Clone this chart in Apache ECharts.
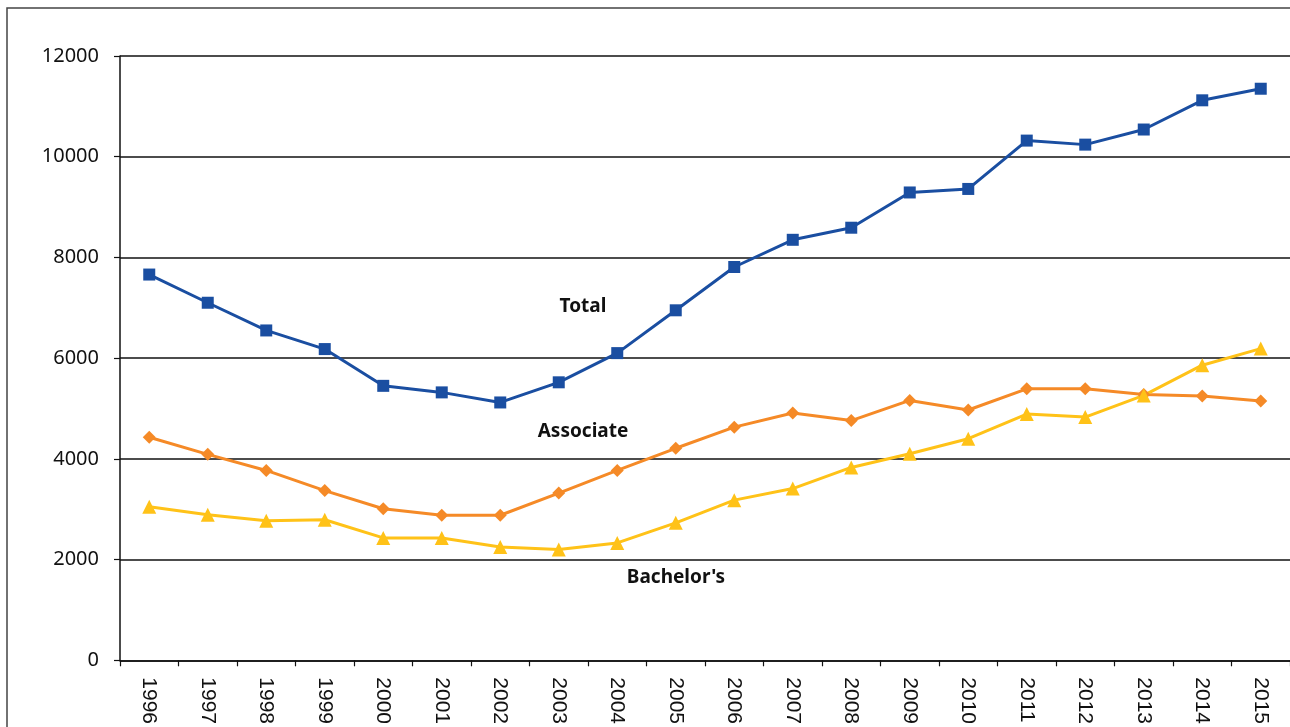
<!DOCTYPE html>
<html>
<head>
<meta charset="utf-8">
<script src="https://cdn.jsdelivr.net/npm/echarts@6/dist/echarts.min.js"></script>
<style>
html,body{margin:0;padding:0;background:#fff;}
#c{width:1290px;height:727px;}
</style>
</head>
<body>
<div id="c"></div>
<script>
const years = ['1996','1997','1998','1999','2000','2001','2002','2003','2004','2005','2006','2007','2008','2009','2010','2011','2012','2013','2014','2015'];
const total = [7660,7100,6550,6180,5450,5320,5120,5520,6100,6950,7810,8350,8590,9290,9360,10320,10240,10540,11120,11350];
const associate = [4430,4090,3770,3370,3010,2880,2880,3320,3770,4210,4630,4910,4760,5160,4970,5390,5390,5280,5250,5150];
const bachelors = [3050,2890,2770,2790,2430,2430,2250,2200,2330,2730,3180,3410,3830,4100,4400,4890,4830,5260,5860,6190];
const yTicks = {min: 0, max: 12000, interval: 2000};

const chart = echarts.init(document.getElementById('c'), null, {renderer: 'canvas'});
const option = {
  animation: false,
  backgroundColor: '#ffffff',
  grid: {left: 120, top: 56, width: 1176, height: 606},
  xAxis: {
    type: 'category',
    data: years,
    boundaryGap: true,
    axisLine: {show: true, lineStyle: {color: '#111', width: 1.5}},
    axisTick: {show: true, length: 6, lineStyle: {color: '#111', width: 1.2}},
    axisLabel: {rotate: -90, fontFamily: 'Liberation Sans', fontSize: 21, color: '#111', margin: 17, interval: 0},
    splitLine: {show: false}
  },
  yAxis: {
    type: 'value',
    min: yTicks.min, max: yTicks.max, interval: yTicks.interval,
    axisLine: {show: true, lineStyle: {color: '#111', width: 1.5}},
    axisTick: {show: true, length: 6, lineStyle: {color: '#111', width: 1.2}},
    axisLabel: {fontFamily: 'Noto Sans', fontSize: 20, color: '#111', margin: 21, formatter: function (v) { return String(v); }},
    splitLine: {show: true, lineStyle: {color: '#111', width: 1.5}}
  },
  series: [
    {name: 'Total', type: 'line', data: total, symbol: 'rect', symbolSize: 12,
     lineStyle: {color: '#1a4ea1', width: 3}, itemStyle: {color: '#1a4ea1'}},
    {name: 'Associate', type: 'line', data: associate, symbol: 'diamond', symbolSize: 13,
     lineStyle: {color: '#f58a27', width: 3}, itemStyle: {color: '#f58a27'}},
    {name: "Bachelor's", type: 'line', data: bachelors, symbol: 'triangle', symbolSize: 14,
     lineStyle: {color: '#ffc218', width: 3}, itemStyle: {color: '#ffc218'}}
  ],
  graphic: [
    {type: 'rect', shape: {x: 7, y: 8, width: 1320, height: 800}, style: {fill: 'none', stroke: '#444', lineWidth: 1.5}, z: 0, silent: true},
    {type: 'text', x: 583, y: 307, style: {text: 'Total', font: 'bold 19px "Noto Sans"', fill: '#111', align: 'center', verticalAlign: 'middle'}},
    {type: 'text', x: 583, y: 432, style: {text: 'Associate', font: 'bold 19px "Noto Sans"', fill: '#111', align: 'center', verticalAlign: 'middle'}},
    {type: 'text', x: 676, y: 578, style: {text: "Bachelor's", font: 'bold 19px "Noto Sans"', fill: '#111', align: 'center', verticalAlign: 'middle'}}
  ]
};
chart.setOption(option);
</script>
</body>
</html>
